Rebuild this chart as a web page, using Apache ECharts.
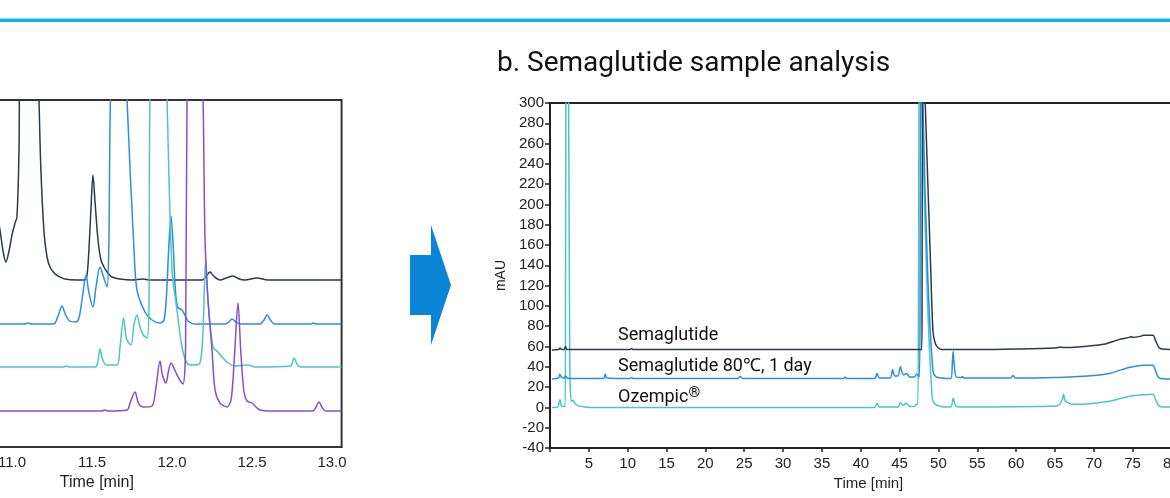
<!DOCTYPE html>
<html>
<head>
<meta charset="utf-8">
<script src="https://cdn.jsdelivr.net/npm/echarts@6/dist/echarts.min.js"></script>
<style>
html,body{margin:0;padding:0;background:#fff;}
#c{width:1170px;height:498px;}
</style>
</head>
<body>
<div id="c"></div>
<script>
// ---------- Left panel (zoomed chromatograms, offset traces) ----------
const leftTicks = [10.0, 10.5, 11.0, 11.5, 12.0, 12.5, 13.0];
const leftBlack = [[10.90,240],[10.925,217],[10.945,195],[10.962,185],[10.98,195],[11.0,212],[11.019,224],[11.031,230],[11.044,300],[11.05,420],[11.10,560],[11.16,420],[11.169,347],[11.18,280],[11.20,215],[11.219,190],[11.2375,180],[11.269,173],[11.30,170],[11.33,168],[11.40,167],[11.456,167],[11.469,172],[11.48,195],[11.494,240],[11.506,272],[11.519,245],[11.5375,207],[11.556,187],[11.575,180],[11.59,176],[11.61,172],[11.625,170],[11.675,168],[11.75,167],[11.82,168],[11.86,167],[12.19,167],[12.21,170],[12.2375,175],[12.26,171],[12.30,167],[12.34,169],[12.381,171],[12.42,168],[12.456,167],[12.531,169],[12.6,167],[13.06,167]];
const leftBlue = [[10.90,123],[11.08,123],[11.10,124],[11.12,123],[11.25,123],[11.27,124],[11.29,132],[11.3125,141],[11.335,132],[11.36,126],[11.40,125],[11.42,130],[11.44,150],[11.4625,172],[11.48,155],[11.506,140],[11.525,160],[11.55,180],[11.572,170],[11.594,160],[11.605,200],[11.615,347],[11.66,600],[11.719,347],[11.7625,197],[11.781,157],[11.831,135],[11.875,127],[11.925,124],[11.95,127],[11.965,150],[11.98,200],[11.994,231],[12.008,200],[12.02,160],[12.035,140],[12.0625,137],[12.08,132],[12.10,126],[12.144,123],[12.33,123],[12.355,125],[12.375,128],[12.40,125],[12.43,123],[12.55,123],[12.575,127],[12.594,132],[12.615,127],[12.64,123],[12.87,123],[12.88,124],[12.9,123],[13.06,123]];
const leftTeal = [[10.90,80],[11.32,80],[11.34,81],[11.36,80],[11.52,80],[11.535,84],[11.55,98],[11.565,88],[11.59,82],[11.656,82],[11.675,100],[11.6975,129],[11.716,108],[11.744,102],[11.762,122],[11.781,132],[11.80,120],[11.82,112],[11.844,109],[11.856,140],[11.862,347],[11.91,700],[11.969,347],[12.0,177],[12.031,137],[12.0625,100],[12.094,84],[12.131,82],[12.175,84],[12.194,117],[12.21,187],[12.225,147],[12.256,100],[12.2875,95],[12.3125,90],[12.35,84],[12.394,81],[12.475,82],[12.52,80],[12.74,81],[12.7625,89],[12.785,82],[12.81,80],[13.06,80]];
const leftPurple = [[10.90,36],[11.56,36],[11.58,37],[11.60,36],[11.719,37],[11.74,45],[11.769,55],[11.79,44],[11.819,40],[11.875,41],[11.90,60],[11.925,86],[11.94,72],[11.9625,64],[11.978,76],[11.994,84],[12.02,76],[12.045,68],[12.069,63],[12.085,100],[12.094,347],[12.14,650],[12.194,347],[12.206,210],[12.225,147],[12.25,97],[12.269,57],[12.30,44],[12.344,40],[12.37,48],[12.39,90],[12.4125,144],[12.43,95],[12.45,55],[12.469,46],[12.5,44],[12.525,40],[12.55,37],[12.6,36],[12.88,36],[12.9,40],[12.919,45],[12.94,39],[12.96,36],[13.06,36]];

// ---------- Right panel: b. Semaglutide sample analysis ----------
const rightXTicks = [5,10,15,20,25,30,35,40,45,50,55,60,65,70,75,80];
const rightYTicks = [-40,-20,0,20,40,60,80,100,120,140,160,180,200,220,240,260,280,300];
const seriesNames = ['Semaglutide', 'Semaglutide 80\u2103, 1 day', 'Ozempic'];
const semaglutide = [[0.25,56.5],[1.1,57],[1.3,58.5],[1.5,57],[1.8,57],[2.0,60],[2.2,57],[10.3,57],[10.5,58],[10.7,57],[47.5,57],[47.85,57],[47.9,120],[47.95,300],[48.1,420],[48.25,320],[48.3,300],[49.0,139],[49.3,75],[49.6,63],[50.0,58.5],[50.5,57],[55,57],[60,57.5],[65,58.5],[65.8,59.5],[66,59],[68,59.5],[70,61],[71.5,62.5],[72.5,65],[73.5,67.5],[74.6,69],[74.8,70],[75,69],[76,70],[76.4,71],[77.6,71],[78.0,65],[78.4,59],[78.8,57.5],[80,57],[82,57]];
const semaglutide80 = [[0.25,28],[1.1,29],[1.25,33],[1.45,30],[1.8,29],[2.0,31],[2.2,29],[2.7,28.5],[6.9,28.5],[7.1,33],[7.3,29],[10.3,28.5],[10.5,29.5],[10.7,28.5],[24.2,28.5],[24.5,30.5],[24.8,28.5],[37.8,28.5],[38.0,30],[38.2,28.5],[41.8,28.5],[42.1,33.5],[42.4,29],[43.8,29],[44.1,37],[44.4,31],[44.8,31],[45.1,40],[45.5,32],[45.9,33.5],[46.3,30],[46.9,30],[47.2,33],[47.55,30],[47.65,150],[47.7,300],[47.85,420],[48.0,300],[48.65,125],[49.3,36],[49.7,30],[50.5,29],[51.6,28.5],[51.8,45],[51.9,55],[52.0,45],[52.3,30],[53,29.5],[53.1,30.5],[53.3,29],[59.3,29],[59.6,31.5],[59.9,29],[65,29.5],[68,30.5],[70,31.5],[72,33.5],[73.5,37],[74.6,39.5],[75,40],[76.4,41.5],[77.6,41.5],[78.0,35],[78.4,29],[80,28],[82,28]];
const ozempic = [[0.25,0],[1.0,0.5],[1.2,6],[1.3,7.5],[1.45,2],[1.7,1],[1.95,1],[2.0,120],[2.05,300],[2.2,420],[2.4,300],[2.55,40],[2.75,6],[2.95,7],[3.2,4],[3.6,1.5],[4.5,0.5],[6,0],[41.8,0],[42.1,4],[42.4,0.5],[44.8,0.5],[45.1,4.5],[45.4,2],[45.9,4],[46.3,1],[46.9,1],[47.2,3],[47.35,3],[47.45,150],[47.5,300],[47.7,420],[47.9,300],[48.5,125],[49.2,9],[49.6,3],[50.3,1],[51.6,0.5],[51.9,9],[52.2,2],[52.6,0.5],[65.2,1.5],[65.7,4],[66.0,9],[66.1,13],[66.3,7],[66.6,5],[67.2,3],[68.5,3],[70,4],[72,6],[73.5,9],[74.6,11],[75,11.5],[76.4,12.5],[77.6,13],[78.0,7],[78.4,1.5],[79,0.5],[82,0.5]];

const C_BLACK = '#2c3a4a', C_BLUE = '#2b8fdc', C_TEAL = '#4cc6c2', C_PURPLE = '#8650c8';
const tickFont = 'Liberation Sans';

const chart = echarts.init(document.getElementById('c'));
function line(name, data, color, xi, yi) {
  return {name, type:'line', xAxisIndex:xi, yAxisIndex:yi, data, symbol:'none', smooth:0.3, clip:true,
    lineStyle:{color, width:1.5}, z:3};
}
chart.setOption({
  animation:false,
  backgroundColor:'#fff',
  grid:[
    {left:-148, top:100, width:489.6, height:347, show:true, borderColor:'#333', borderWidth:2, outerBoundsMode:'none', containLabel:false},
    {left:550, top:103, width:637, height:345, show:true, borderColor:'#222', borderWidth:2, outerBoundsMode:'none', containLabel:false}
  ],
  xAxis:[
    {gridIndex:0, type:'value', min:leftTicks[0], max:13.06, interval:0.5,
     axisLine:{onZero:false, lineStyle:{color:'#333', width:2}}, axisTick:{show:false}, splitLine:{show:false},
     axisLabel:{color:'#222', fontSize:15, fontFamily:tickFont, margin:8,
       formatter:v => leftTicks.some(t => Math.abs(t - v) < 1e-6) ? v.toFixed(1) : ''},
     name:'Time [min]', nameLocation:'middle', nameGap:25,
     nameTextStyle:{color:'#222', fontSize:16, fontFamily:tickFont}},
    {gridIndex:1, type:'value', min:0, max:82, interval:5,
     axisLine:{onZero:false, lineStyle:{color:'#222', width:2}},
     axisTick:{show:true, length:4, lineStyle:{color:'#222', width:1.5}}, splitLine:{show:false},
     axisLabel:{color:'#222', fontSize:15, fontFamily:tickFont, margin:8,
       formatter:v => rightXTicks.indexOf(v) >= 0 ? String(v) : ''},
     name:'Time [min]', nameLocation:'middle', nameGap:26,
     nameTextStyle:{color:'#222', fontSize:15, fontFamily:tickFont}}
  ],
  yAxis:[
    {gridIndex:0, type:'value', min:0, max:347, show:false},
    {gridIndex:1, type:'value', min:rightYTicks[0], max:rightYTicks[rightYTicks.length-1], interval:20,
     axisLine:{show:true, onZero:false, lineStyle:{color:'#222', width:2}},
     axisTick:{show:true, length:5, lineStyle:{color:'#222', width:1.5}}, splitLine:{show:false},
     axisLabel:{color:'#222', fontSize:15, fontFamily:tickFont, margin:6},
     name:'mAU', nameLocation:'middle', nameGap:41, nameRotate:90,
     nameTextStyle:{color:'#222', fontSize:14, fontFamily:tickFont}}
  ],
  series:[
    line('L-black', leftBlack, C_BLACK, 0, 0),
    line('L-blue', leftBlue, C_BLUE, 0, 0),
    line('L-teal', leftTeal, C_TEAL, 0, 0),
    line('L-purple', leftPurple, C_PURPLE, 0, 0),
    line(seriesNames[2], ozempic, C_TEAL, 1, 1),
    line(seriesNames[1], semaglutide80, C_BLUE, 1, 1),
    line(seriesNames[0], semaglutide, C_BLACK, 1, 1)
  ],
  graphic:[
    {type:'rect', shape:{x:0, y:18.5, width:1170, height:3.5}, style:{fill:'#14b1e6'}, z:10},
    {type:'polygon', shape:{points:[[410,255],[431,255],[431,225],[451,285],[431,345],[431,315],[410,315]]},
     style:{fill:'#0a85d6'}, z:10},
    {type:'text', x:497, y:64, style:{text:'b. Semaglutide sample analysis', font:'28px Roboto', fill:'#111', verticalAlign:'middle'}, z:10},
    {type:'text', x:618, y:335, style:{text:seriesNames[0], font:'18px Roboto', fill:'#111', verticalAlign:'middle'}, z:10},
    {type:'text', x:618, y:366, style:{text:seriesNames[1], font:'18px Roboto', fill:'#111', verticalAlign:'middle'}, z:10},
    {type:'text', x:618, y:397, style:{text:'{a|' + seriesNames[2] + '}{b|\u00ae}', verticalAlign:'middle',
      rich:{a:{fontFamily:'Roboto', fontSize:18, fill:'#111', lineHeight:22},
            b:{fontFamily:'Roboto', fontSize:15, fontWeight:'bold', fill:'#111', verticalAlign:'top', lineHeight:18}}}, z:10}
  ]
});
</script>
</body>
</html>
